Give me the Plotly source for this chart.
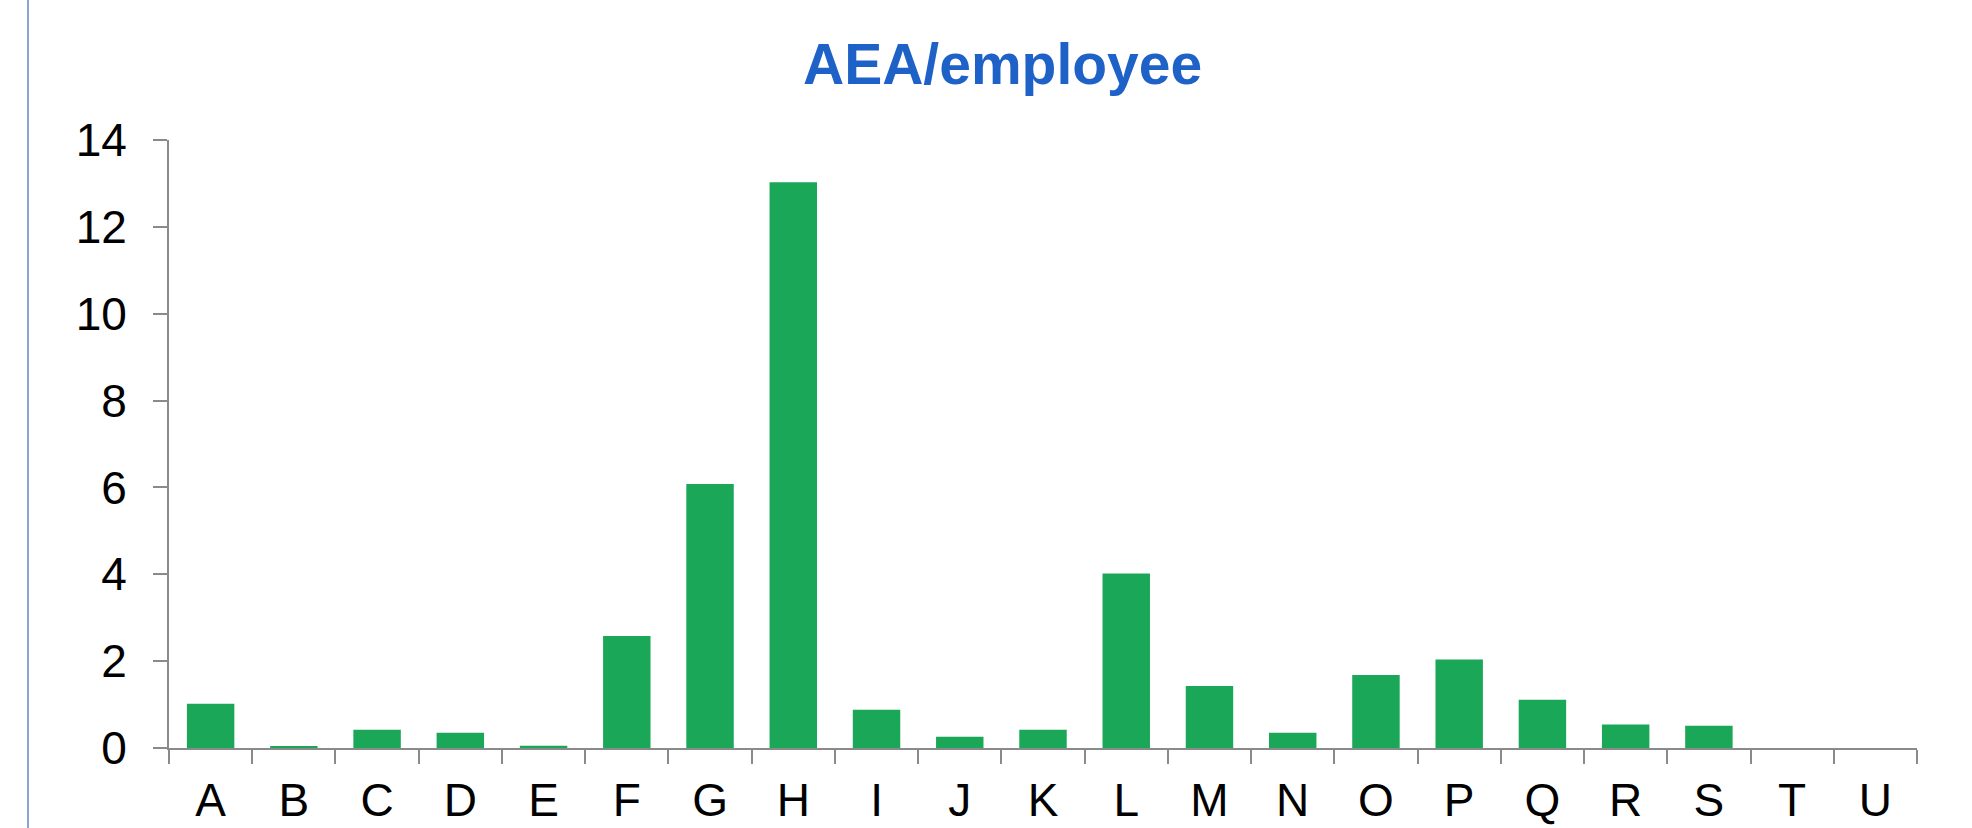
import plotly.graph_objects as go

# Sector codes and air emissions per employee
sectors = list("ABCDEFGHIJKLMNOPQRSTU")
aea_per_employee = [1.02, 0.03, 0.42, 0.35, 0.05, 2.58, 6.08, 13.03, 0.88, 0.26,
                    0.42, 4.02, 1.43, 0.35, 1.68, 2.04, 1.11, 0.54, 0.51, 0.0, 0.0]
y_ticks = [0, 2, 4, 6, 8, 10, 12, 14]

W, H = 1972, 828
ML, MR, MT, MB = 169, 55, 140, 80
plot_w = W - ML - MR
plot_h = H - MT - MB

axis_grey = "#8a8a8a"
font_family = "Liberation Sans, Arial, sans-serif"

fig = go.Figure(
    go.Bar(
        x=sectors,
        y=aea_per_employee,
        marker=dict(color="#1aa758", line=dict(width=0)),
        hoverinfo="x+y",
    )
)

fig.update_layout(
    width=W,
    height=H,
    margin=dict(l=ML, r=MR, t=MT, b=MB, autoexpand=False),
    paper_bgcolor="white",
    plot_bgcolor="white",
    bargap=0.43,
    showlegend=False,
    font=dict(family=font_family, size=46, color="black"),
)

fig.update_xaxes(
    type="category",
    automargin=False,
    showline=True,
    linecolor=axis_grey,
    linewidth=2,
    ticks="outside",
    tickson="boundaries",
    ticklen=14,
    tickwidth=2,
    tickcolor=axis_grey,
    showgrid=False,
    tickfont=dict(size=46),
    ticklabelstandoff=11,
)

fig.update_yaxes(
    range=[0, 14],
    tickvals=y_ticks,
    automargin=False,
    showline=True,
    linecolor=axis_grey,
    linewidth=2,
    ticks="outside",
    ticklen=14,
    tickwidth=2,
    tickcolor=axis_grey,
    showgrid=False,
    zeroline=False,
    tickfont=dict(size=46),
    ticklabelstandoff=17,
)

# Chart title
fig.add_annotation(
    text="<b>AEA/employee</b>",
    xref="paper", yref="paper",
    x=(1002 - ML) / plot_w,
    y=(H - MB - 64) / plot_h,
    xanchor="center", yanchor="middle",
    showarrow=False,
    font=dict(family=font_family, size=57, color="#1e62c8"),
)

# Thin vertical rule at the left edge of the slide
fig.add_shape(
    type="line",
    xref="paper", yref="paper",
    x0=(28 - ML) / plot_w, x1=(28 - ML) / plot_w,
    y0=-MB / plot_h, y1=(H - MB) / plot_h,
    line=dict(color="#8aa4d2", width=2),
)

fig.write_html("out.html")
